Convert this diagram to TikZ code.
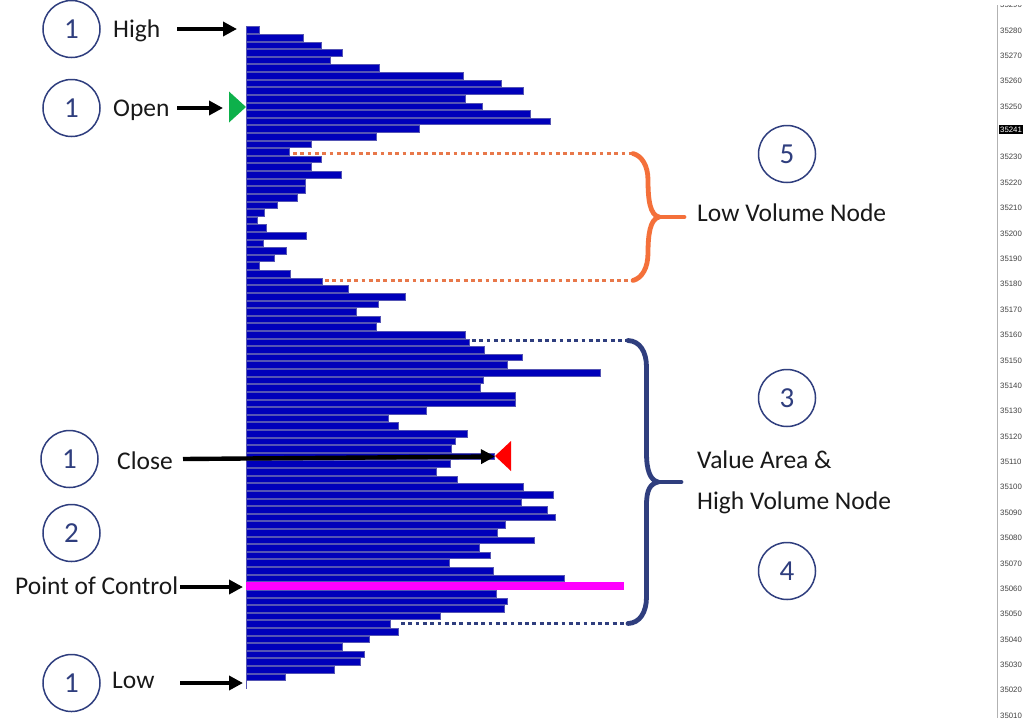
\documentclass[tikz,border=0pt]{standalone}
\usepackage{fontspec}
\setmainfont{Carlito}
\newfontfamily\axisfont{Liberation Sans}
\definecolor{barblue}{HTML}{0000BA}
\definecolor{baredge}{HTML}{5555B4}
\definecolor{navy}{HTML}{2F3E7E}
\definecolor{orangeb}{HTML}{F4703A}
\definecolor{dotorange}{HTML}{E8784A}
\definecolor{tick}{HTML}{404040}
\definecolor{pocpink}{HTML}{FF00FF}
\definecolor{opengreen}{HTML}{0DB14B}
\tikzset{
 numcircle/.style={circle,draw=navy,line width=1.5pt,minimum size=57pt,inner sep=0pt,text=navy,font=\fontsize{29}{29}\selectfont},
 lbl/.style={inner sep=0pt,text=black!90,font=\fontsize{25.5}{25.5}\selectfont},
 lblleft/.style={lbl,anchor=west},
 pointer/.style={draw=black,line width=4.4pt,-{Triangle[length=14pt,width=14pt]}},
 histbar/.style={draw=baredge,line width=1pt,fill=barblue},
 orangebrace/.style={draw=orangeb,line width=4.8pt,line cap=round},
 navybrace/.style={draw=navy,line width=4.8pt,line cap=round},
 dotline/.style={line width=3.8pt,dash pattern=on 3.8pt off 3.5pt},
 axlabel/.style={inner sep=0pt,text=tick,font=\axisfont\fontsize{7.8}{7.8}\selectfont},
}
\usetikzlibrary{arrows.meta}
\begin{document}
\begin{tikzpicture}[x=1pt,y=-1pt]
\useasboundingbox (0,0) rectangle (1024,718);
\fill[white] (0,0) rectangle (1024,718);
% right price axis
\foreach \p [count=\k from 0] in {35290,35280,35270,35260,35250,35240,35230,35220,35210,35200,35190,35180,35170,35160,35150,35140,35130,35120,35110,35100,35090,35080,35070,35060,35050,35040,35030,35020,35010}{
  \ifnum\k=5\else
  \node[axlabel] (tick\k) at (1011,{5+25.38*\k}) {\p};
  \fi
}
\fill[white] (990,0) rectangle (1024,5);
\draw[draw=black!30,line width=1pt] (997.5,5) -- (997.5,718);
\node[fill=black,text=white,inner xsep=1pt,inner ysep=2pt,font=\axisfont\fontsize{7.8}{7.8}\selectfont] (last) at (1011,129.5) {35241};
% histogram
\draw[draw=baredge,line width=1.4pt] (246.5,27) -- (246.5,689);
\foreach \w [count=\i from 0] in {87,219,274,338,301,449,699,815,880,705,758,902,960,569,438,243,179,275,245,334,225,225,203,143,103,81,109,228,101,169,133,89,182,276,354,526,446,378,452,438,705,719,763,876,831,1110,761,751,855,855,589,474,506,711,677,665,792,662,619,681,880,970,875,952,976,826,801,912,747,781,657,791,1004,0,799,833,823,631,480,506,418,336,402,392,312,167}{
  \ifnum\w>0
  \draw[histbar] (246,{26.9+7.615*\i}) rectangle ({230+\w/3},{26.9+7.615*\i+6.6});
  \fi
}
\fill[fill=pocpink] (246,582.2) rectangle (624,590.2);
% markers
\coordinate (openTip) at (246,107);
\coordinate (closeTip) at (495,456);
\fill[fill=opengreen] (229,91.5) -- (openTip) -- (229,122.5) -- cycle;
\fill[fill=red] (511,441) -- (closeTip) -- (511,471) -- cycle;
% numbered circles
\node[numcircle] (c1) at (71.5,29) {1};
\node[numcircle] (c2) at (71.5,108) {1};
\node[numcircle] (c3) at (69.5,459) {1};
\node[numcircle] (c4) at (71.5,533) {2};
\node[numcircle] (c5) at (71.5,683) {1};
\node[numcircle] (c6) at (787,154) {5};
\node[numcircle] (c7) at (787,398) {3};
\node[numcircle] (c8) at (787,571) {4};
% labels
\node[lblleft] (high) at (113,31) {High};
\node[lblleft] (open) at (113,110) {Open};
\node[lblleft] (close) at (117,461) {Close};
\node[lblleft] (poc) at (15,586) {Point of Control};
\node[lblleft] (low) at (112,680) {Low};
\node[lblleft] (lvn) at (697,213) {Low Volume Node};
\node[lblleft] (va) at (697,460) {Value Area \&};
\node[lblleft] (hvn) at (697,503) {High Volume Node};
% pointers
\coordinate (highS) at (177,29);   \coordinate (highE) at (237,29);
\coordinate (openS) at (177,108);  \coordinate (openE) at (223,108);
\coordinate (closeS) at (183,459); \coordinate (closeE) at (495,456.5);
\coordinate (pocS) at (180,587);   \coordinate (pocE) at (243,587);
\coordinate (lowS) at (180,683);   \coordinate (lowE) at (243,683);
\draw[pointer] (highS) -- (highE);
\draw[pointer] (openS) -- (openE);
\draw[pointer] (closeS) -- (closeE);
\draw[pointer] (pocS) -- (pocE);
\draw[pointer] (lowS) -- (lowE);
% dotted guides
\coordinate (oT) at (633,153.5); \coordinate (oB) at (633,280.5); \coordinate (oM) at (659,217); \coordinate (oE) at (684,217);
\coordinate (nT) at (628,340.5);   \coordinate (nB) at (628,623.5);   \coordinate (nM) at (658,482); \coordinate (nE) at (681,482);
\draw[dotline,draw=dotorange] (293,153.5) -- (oT);
\draw[dotline,draw=dotorange] (325,280.5) -- (oB);
\draw[dotline,draw=navy] (472,340.5) -- (nT);
\draw[dotline,draw=navy] (401,623.5) -- (nB);
% braces
\draw[orangebrace] (oT) .. controls (642,156) and (648,166) .. (648,180) .. controls (648,200) and (650,215) .. (oM) .. controls (650,219) and (648,235) .. (648,253) .. controls (648,268) and (642,278) .. (oB);
\draw[orangebrace] (oM) -- (oE);
\draw[navybrace] (nT) .. controls (640,341) and (646.5,352) .. (646.5,367) -- (646.5,453) .. controls (646.5,470) and (650,480) .. (nM) .. controls (650,484) and (646.5,490) .. (646.5,505) -- (646.5,597) .. controls (646.5,612) and (640,623) .. (nB);
\draw[navybrace] (nM) -- (nE);
\end{tikzpicture}
\end{document}
